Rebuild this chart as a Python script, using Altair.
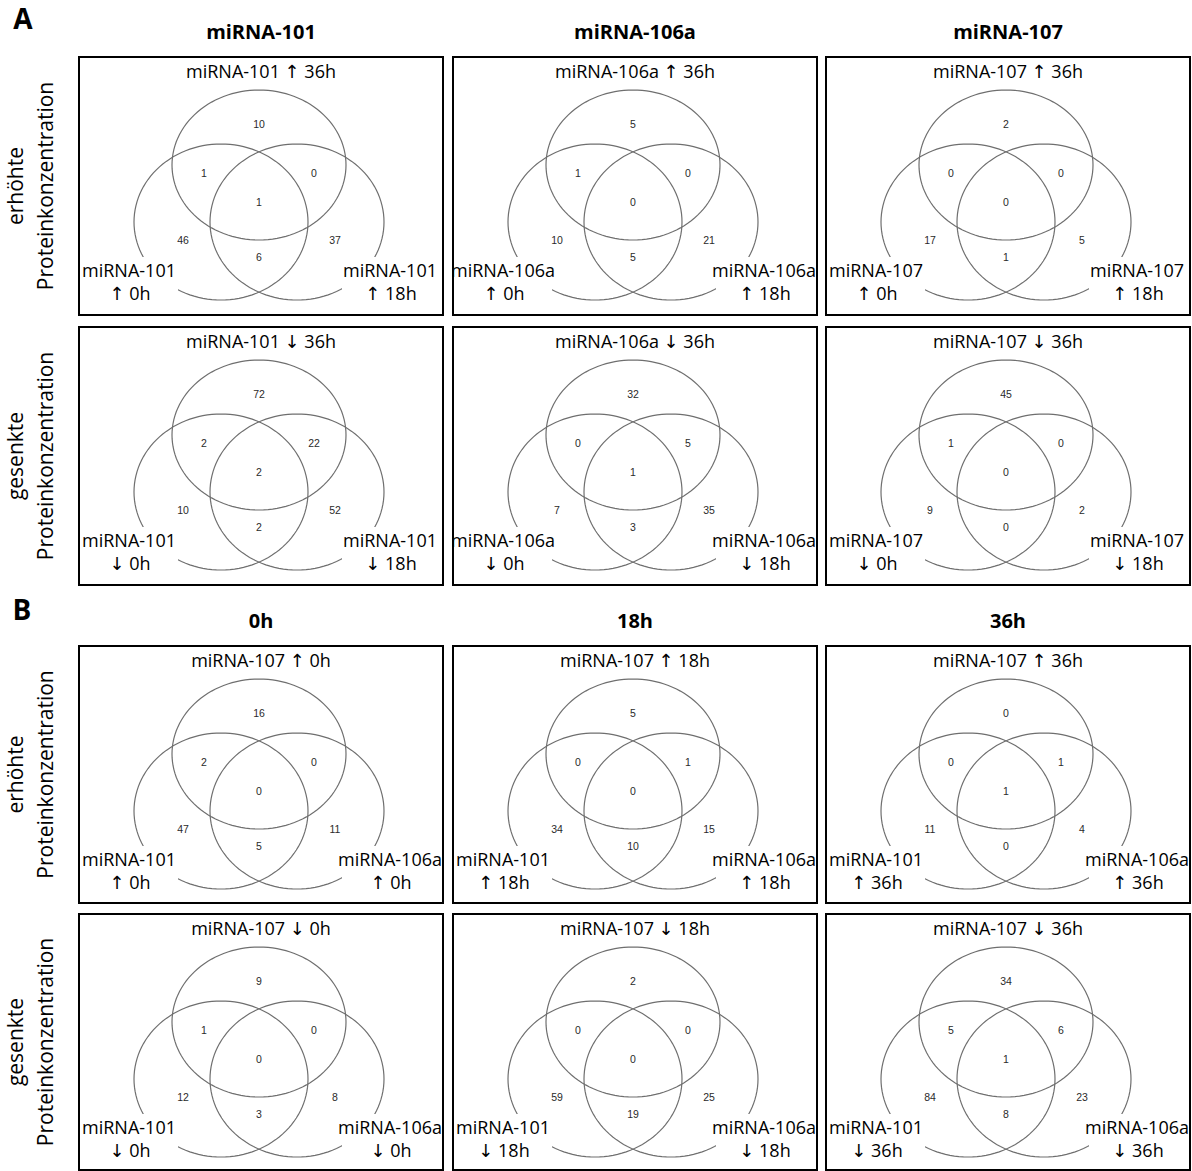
import altair as alt
import numpy as np
import pandas as pd

W, H = 1192, 1171

# Region counts per Venn panel:
# [top only, top&left, top&right, all three, left only, right only, left&right]
A_up_101 = [10, 1, 0, 1, 46, 37, 6]
A_up_106a = [5, 1, 0, 0, 10, 21, 5]
A_up_107 = [2, 0, 0, 0, 17, 5, 1]
A_dn_101 = [72, 2, 22, 2, 10, 52, 2]
A_dn_106a = [32, 0, 5, 1, 7, 35, 3]
A_dn_107 = [45, 1, 0, 0, 9, 2, 0]
B_up_0h = [16, 2, 0, 0, 47, 11, 5]
B_up_18h = [5, 0, 1, 0, 34, 15, 10]
B_up_36h = [0, 0, 1, 1, 11, 4, 0]
B_dn_0h = [9, 1, 0, 0, 12, 8, 3]
B_dn_18h = [2, 0, 0, 0, 59, 25, 19]
B_dn_36h = [34, 5, 6, 1, 84, 23, 8]

A_columns = ["miRNA-101", "miRNA-106a", "miRNA-107"]
B_columns = ["0h", "18h", "36h"]
row_labels = [["erhöhte", "Proteinkonzentration"], ["gesenkte", "Proteinkonzentration"]]
arrows = ["↑", "↓"]
panel_letters = ["A", "B"]

counts = [
    [A_up_101, A_up_106a, A_up_107],
    [A_dn_101, A_dn_106a, A_dn_107],
    [B_up_0h, B_up_18h, B_up_36h],
    [B_dn_0h, B_dn_18h, B_dn_36h],
]

# ---------------- layout (pixels) ----------------
col_x = [79, 453, 826]
box_w = 364
row_y = [57, 327, 646, 914]
box_h = [258, 258, 257, 256]
title_y = [33, 622]
letter_pos = [(23, 21), (22, 612)]

circ_geo = [(180, 108, 87, 75), (142, 165, 87, 78), (218, 165, 87, 78)]
num_pos = [(180, 68), (125, 117), (235, 117), (180, 146), (104, 184), (256, 184), (180, 201)]
mask_rects = [(1, 99, 200, 257), (263, 363, 200, 257)]

circle_rows, mask_rows, box_rows, num_rows, lab_rows = [], [], [], [], []
theta = np.linspace(0, 2 * np.pi, 121)
for r in range(4):
    arrow = arrows[r % 2]
    for c in range(3):
        x0, y0 = col_x[c], row_y[r]
        box_rows.append({"x": x0, "x2": x0 + box_w, "y": y0, "y2": y0 + box_h[r]})
        for k, (cx, cy, rx, ry) in enumerate(circ_geo):
            cid = f"{r}-{c}-{k}"
            for i, t in enumerate(theta):
                circle_rows.append({"cid": cid, "i": i,
                                    "x": x0 + cx + rx * np.cos(t),
                                    "y": y0 + cy + ry * np.sin(t)})
        for (a, b, yy, yy2) in mask_rects:
            mask_rows.append({"x": x0 + a, "x2": x0 + b, "y": y0 + yy, "y2": y0 + yy2})
        for v, (px, py) in zip(counts[r][c], num_pos):
            num_rows.append({"x": x0 + px, "y": y0 + py, "t": str(v)})
        if r < 2:
            m = A_columns[c]
            top = f"{m} {arrow} 36h"
            left = (m, f"{arrow} 0h")
            right = (m, f"{arrow} 18h")
        else:
            tt = B_columns[c]
            top = f"miRNA-107 {arrow} {tt}"
            left = ("miRNA-101", f"{arrow} {tt}")
            right = ("miRNA-106a", f"{arrow} {tt}")
        lab_rows.append({"x": x0 + 182, "y": y0 + 16, "t": top})
        lab_rows.append({"x": x0 + 50, "y": y0 + 215, "t": left[0]})
        lab_rows.append({"x": x0 + 51, "y": y0 + 238, "t": left[1]})
        lab_rows.append({"x": x0 + 311, "y": y0 + 215, "t": right[0]})
        lab_rows.append({"x": x0 + 312, "y": y0 + 238, "t": right[1]})

title_rows = []
for blk, cols in enumerate([A_columns, B_columns]):
    for c, name in enumerate(cols):
        title_rows.append({"x": col_x[c] + 182, "y": title_y[blk], "t": name})

letter_rows = [{"x": p[0], "y": p[1], "t": l} for l, p in zip(panel_letters, letter_pos)]

rowlab_rows = []
for r in range(4):
    cy = row_y[r] + box_h[r] / 2
    rowlab_rows.append({"x": 17, "y": cy, "t": row_labels[r % 2][0]})
    rowlab_rows.append({"x": 47, "y": cy, "t": row_labels[r % 2][1]})

X = alt.X("x:Q", scale=alt.Scale(domain=[0, W], nice=False, zero=False), axis=None)
Y = alt.Y("y:Q", scale=alt.Scale(domain=[0, H], nice=False, zero=False, reverse=True), axis=None)

circles = alt.Chart(pd.DataFrame(circle_rows)).mark_line(
    stroke="#6f6f6f", strokeWidth=1.2
).encode(x=X, y=Y, detail="cid:N", order="i:Q")

masks = alt.Chart(pd.DataFrame(mask_rows)).mark_rect(fill="white").encode(
    x=X, x2="x2:Q", y=Y, y2="y2:Q")

boxes = alt.Chart(pd.DataFrame(box_rows)).mark_rect(
    fillOpacity=0, stroke="black", strokeWidth=2).encode(x=X, x2="x2:Q", y=Y, y2="y2:Q")

nums = alt.Chart(pd.DataFrame(num_rows)).mark_text(
    font="Liberation Sans", fontSize=10.5, color="#2a2a2a", align="center", baseline="middle"
).encode(x=X, y=Y, text="t:N")

labs = alt.Chart(pd.DataFrame(lab_rows)).mark_text(
    font="Open Sans, DejaVu Sans", fontSize=18, color="black", align="center", baseline="middle"
).encode(x=X, y=Y, text="t:N")

titles = alt.Chart(pd.DataFrame(title_rows)).mark_text(
    font="Open Sans", fontSize=20, fontWeight="bold", color="black", align="center", baseline="middle"
).encode(x=X, y=Y, text="t:N")

letters = alt.Chart(pd.DataFrame(letter_rows)).mark_text(
    font="Open Sans", fontSize=28, fontWeight="bold", color="black", align="center", baseline="middle"
).encode(x=X, y=Y, text="t:N")

rowlabs = alt.Chart(pd.DataFrame(rowlab_rows)).mark_text(
    font="Open Sans", fontSize=21, color="black", align="center", baseline="middle", angle=270
).encode(x=X, y=Y, text="t:N")

chart = alt.layer(circles, masks, boxes, nums, labs, titles, letters, rowlabs).properties(
    width=W, height=H, autosize=alt.AutoSizeParams(type="none"), padding=0
).configure_view(stroke=None)

chart.save("out.html", embed_options={"renderer": "svg", "actions": False})
